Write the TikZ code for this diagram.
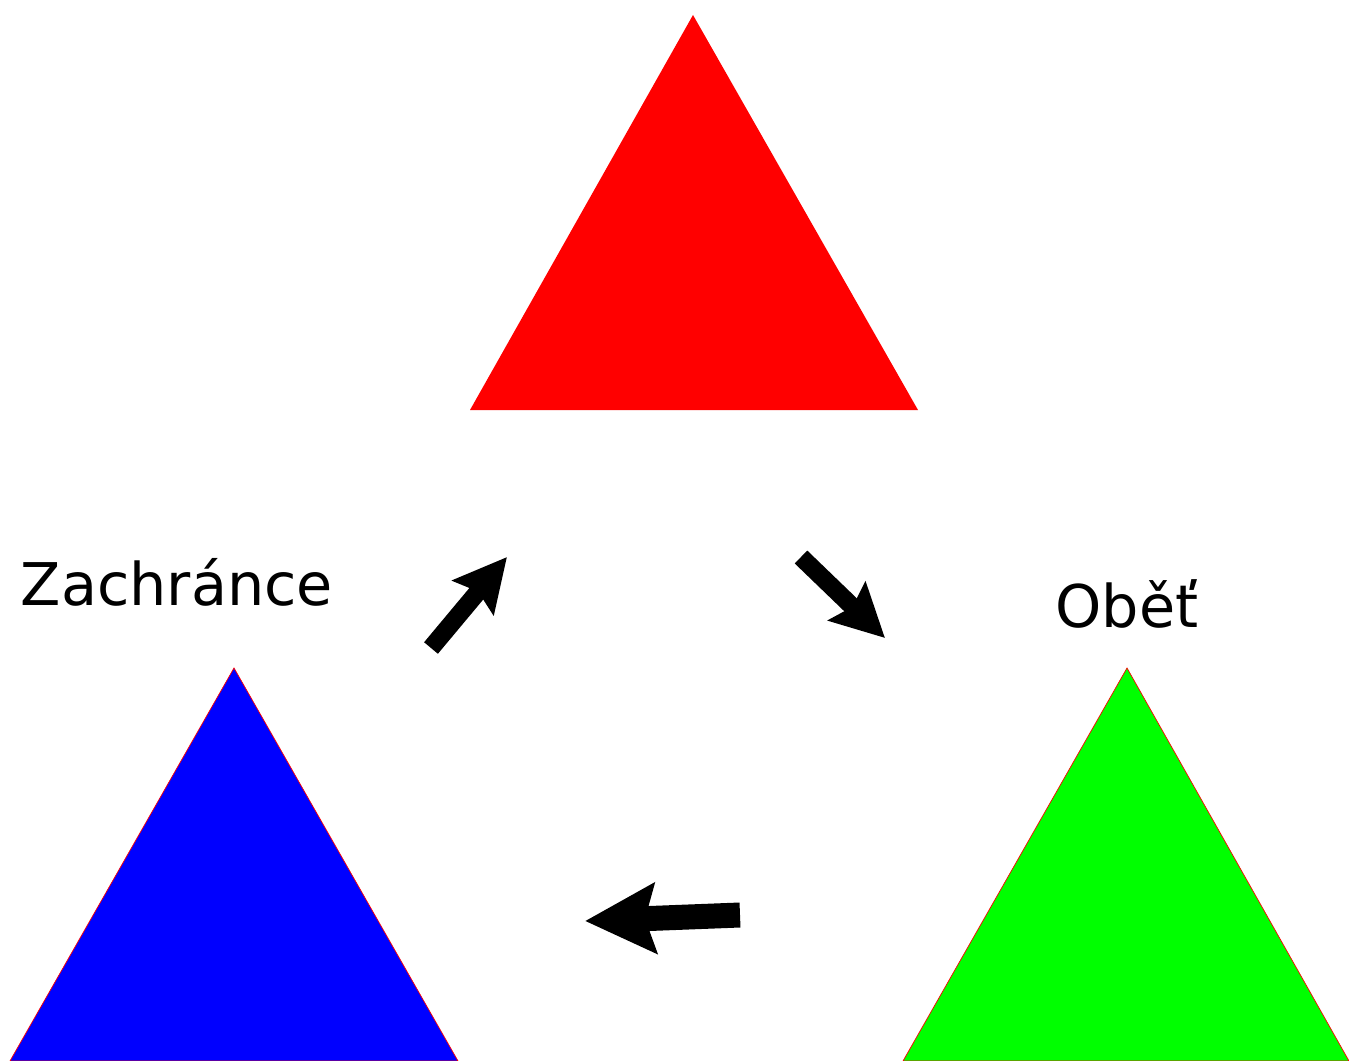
\documentclass[tikz,border=0pt]{standalone}
\usepackage{fontspec}
\setmainfont{DejaVu Sans}
\usetikzlibrary{arrows.meta,positioning}
\definecolor{rd}{RGB}{255,0,0}
\definecolor{bl}{RGB}{0,0,255}
\definecolor{gr}{RGB}{0,255,0}

\begin{document}
\begin{tikzpicture} [x=0.02cm,y=-0.02cm,line width=0.3mm,
    role/.style={font=\fontsize{33.5}{40}\selectfont,anchor=base,inner sep=0pt},
    arr/.style={line width=0.36cm,-{Stealth[width=1.05cm,length=1.05cm,inset=0.15cm]}}]

  \useasboundingbox (0,0) rectangle (1349,1061);

  % triangles
  \fill[rd] (693,15) -- (918,410) -- (470,410) -- cycle;
  \filldraw[bl,draw=rd,line width=0.4pt] (234,668) -- (458,1061) -- (10,1061) -- cycle;
  \filldraw[gr,draw=rd,line width=0.4pt] (1127,668) -- (1349,1061) -- (903,1061) -- cycle;

  % labels
  \node[role] (zach) at (177,605) {Zachránce};
  \node[role] (obet) at (1127,627) {Oběť};

  % arrow ends
  \coordinate (1) at (431,648);
  \coordinate (2) at (507,557);
  \coordinate (3) at (801,557);
  \coordinate (4) at (885,638);
  \coordinate (5) at (740,915);
  \coordinate (6) at (585,921);

  \draw[arr] (1) -- (2);
  \draw[arr] (3) -- (4);
  \draw[arr,line width=0.5cm,-{Stealth[width=1.38cm,length=1.4cm,inset=0.2cm]}] (5) -- (6);

\end{tikzpicture}
\end{document}
